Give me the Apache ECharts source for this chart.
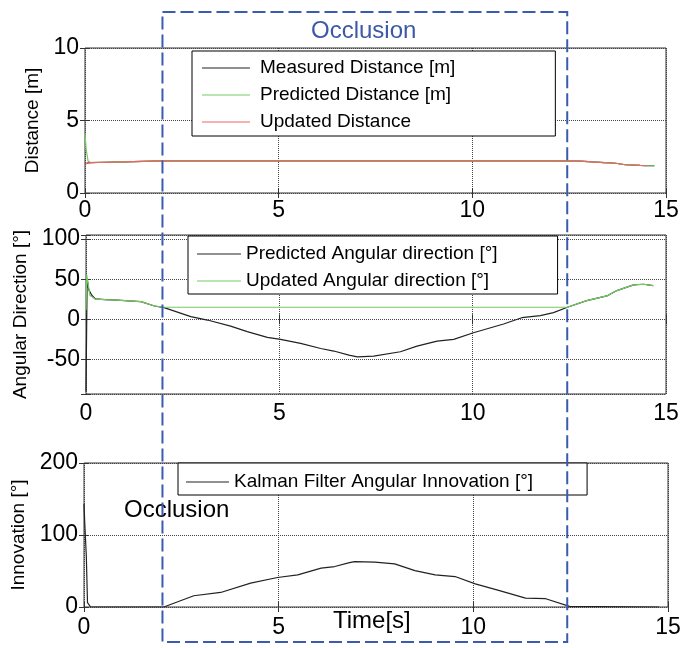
<!DOCTYPE html>
<html>
<head>
<meta charset="utf-8">
<script src="https://cdn.jsdelivr.net/npm/echarts@6/dist/echarts.min.js"></script>
<style>
html, body { margin: 0; padding: 0; background: #fff; }
#main { width: 694px; height: 648px; }
</style>
</head>
<body>
<div id="main"></div>
<script>
// occlusion window [s]
var occlusionStart = 2;
var occlusionEnd = 12.45;

// distance plot
var distTime      = [0, 0.03, 0.08, 0.15, 0.5, 1.0, 1.5, 2.0, 4, 6, 8, 10, 12, 12.78, 13.1, 13.4, 13.7, 13.95, 14.33, 14.5, 14.7];
var distMeasured  = [2.0, 2.05, 2.08, 2.1, 2.12, 2.14, 2.18, 2.22, 2.22, 2.22, 2.22, 2.22, 2.22, 2.2, 2.14, 2.1, 2.05, 1.95, 1.9, 1.88, 1.88];
var distPredicted = [4.1, 3.0, 2.2, 2.1, 2.12, 2.14, 2.18, 2.22, 2.22, 2.22, 2.22, 2.22, 2.22, 2.2, 2.14, 2.1, 2.05, 1.95, 1.9, 1.88, 1.88];
var distUpdated   = [2.0, 2.05, 2.08, 2.1, 2.12, 2.14, 2.18, 2.22, 2.22, 2.22, 2.22, 2.22, 2.22, 2.2, 2.14, 2.1, 2.05, 1.95, 1.9, 1.88, null];

// angular direction plot
var angTime = [0, 0.03, 0.07, 0.15, 0.24, 0.5, 0.81, 1.1, 1.42, 1.77, 2.02, 2.71, 3.14, 3.74, 4.17, 4.69, 5.03, 5.55, 6.07, 6.41, 6.8, 7.02, 7.44, 8.13, 8.56, 9.08, 9.51, 10.02, 10.8, 11.27, 11.75, 12.09, 12.45, 12.95, 13.47, 13.73, 14.16, 14.42, 14.67];
var angPredicted = [-90, 51, 37, 30, 25.4, 24.5, 24, 23, 22, 16.6, 14.5, 3.3, -0.9, -8.4, -15.4, -22.5, -25, -30, -36.3, -39.5, -44.6, -46.7, -45.9, -40.4, -33.4, -27.1, -25, -16.7, -5.8, 2, 4.6, 8.3, 15, 23.3, 29.1, 35.8, 42.9, 43.7, 42];
var angUpdTime = [0, 0.02, 0.1, 0.24, 0.5, 0.81, 1.1, 1.42, 1.77, 2.02, 12.45, 12.95, 13.47, 13.73, 14.16, 14.42, 14.67];
var angUpdated = [11.6, 55, 30, 25, 24.5, 24, 23, 22, 16.6, 15, 15, 23.3, 29.1, 35.8, 42.9, 43.7, 42];

// innovation plot
var innTime = [0, 0.02, 0.06, 0.09, 0.17, 2.05, 2.82, 3.51, 4.28, 4.97, 5.49, 6.09, 6.44, 6.82, 6.95, 7.47, 7.98, 8.5, 9.02, 9.53, 10.05, 10.65, 11.34, 11.86, 12.47, 14.77];
var innValue = [143, 116, 70, 6, 0, 0, 15.6, 20.2, 33.2, 41, 44.7, 53.9, 56.2, 61.7, 63, 62.2, 59.9, 50.6, 44.7, 42.3, 32.2, 23, 12.4, 11.5, 0.8, 0];

var font = 'Liberation Sans, Arial, sans-serif';
var cBlack = '#222222';
var cGreen = '#74cc62';
var cRed = '#f06565';

function pairs(t, v) {
    var out = [];
    for (var i = 0; i < t.length; i++) {
        out.push([t[i], v[i]]);
    }
    return out;
}

function xMain(g, margin) {
    return {
        type: 'value', gridIndex: g, min: 0, max: 15, interval: 5, position: 'bottom',
        axisLine: {show: false},
        axisTick: {inside: true, length: 5, lineStyle: {color: '#333'}},
        axisLabel: {fontSize: 23, color: '#000', fontFamily: font, margin: margin},
        splitLine: {show: true, lineStyle: {color: '#444', type: 'dotted'}}
    };
}
function xTop(g) {
    return {
        type: 'value', gridIndex: g, min: 0, max: 15, interval: 5, position: 'top',
        axisLine: {show: false},
        axisTick: {inside: true, length: 5, lineStyle: {color: '#333'}},
        axisLabel: {show: false},
        splitLine: {show: false}
    };
}
function yAxisOf(g, ext, name, gap, right) {
    var ax = {
        type: 'value', gridIndex: g, position: right ? 'right' : 'left',
        axisLine: {show: false},
        axisTick: {inside: true, length: 5, lineStyle: {color: '#333'}},
        axisLabel: right ? {show: false} : {
            fontSize: 23, color: '#000', fontFamily: font, margin: 6,
            formatter: function (v) { return (v % ext.step === 0) ? String(v) : ''; }
        },
        splitLine: right ? {show: false} : {show: true, lineStyle: {color: '#444', type: 'dotted'}}
    };
    for (var k in ext) { if (k !== 'step') ax[k] = ext[k]; }
    if (!right) {
        ax.name = name;
        ax.nameLocation = 'middle';
        ax.nameGap = gap;
        ax.nameTextStyle = {fontSize: 19, color: '#000', fontFamily: font};
    }
    return ax;
}

var distExt = {min: 0, max: 10, interval: 5, step: 5};
var angExt = {min: -93, max: 105, splitNumber: 4, step: 50};
var innExt = {min: 0, max: 200, interval: 100, step: 100};

var legendBase = {
    orient: 'vertical',
    backgroundColor: '#fff',
    borderColor: '#000',
    borderWidth: 1,
    borderRadius: 0,
    icon: 'rect',
    itemHeight: 1,
    itemGap: 5,
    selectedMode: false,
    textStyle: {fontSize: 19, color: '#000', fontFamily: font, lineHeight: 22}
};
function legendAt(opts) {
    var l = {};
    for (var k in legendBase) l[k] = legendBase[k];
    for (var j in opts) l[j] = opts[j];
    return l;
}

function line(name, xi, t, v, color, z) {
    return {
        name: name, type: 'line', xAxisIndex: xi, yAxisIndex: xi,
        data: pairs(t, v), showSymbol: false, symbol: 'none',
        color: color, lineStyle: {color: color, width: 1.2}, z: z || 2,
        animation: false
    };
}

var chart = echarts.init(document.getElementById('main'));
var option = {
    animation: false,
    backgroundColor: '#fff',
    title: [
        {text: 'Occlusion', left: 311, top: 19, padding: 0,
            textStyle: {fontSize: 24, fontWeight: 'normal', color: '#3d58a8', fontFamily: font}},
        {text: 'Occlusion', left: 124, top: 498, padding: 0,
            textStyle: {fontSize: 24, fontWeight: 'normal', color: '#000', fontFamily: font}},
        {text: 'Time[s]', left: 333, top: 609, padding: 0,
            textStyle: {fontSize: 24, fontWeight: 'normal', color: '#000', fontFamily: font}}
    ],
    grid: [
        {left: 85, right: 28, top: 48, height: 145, show: true, borderColor: '#333', borderWidth: 1},
        {left: 86, right: 28, top: 235, height: 159, show: true, borderColor: '#333', borderWidth: 1},
        {left: 84, right: 26, top: 463, height: 144, show: true, borderColor: '#333', borderWidth: 1}
    ],
    xAxis: [xMain(0, 6), xMain(1, 8), xMain(2, 9), xTop(0), xTop(1), xTop(2)],
    yAxis: [
        yAxisOf(0, distExt, 'Distance [m]', 40, false),
        yAxisOf(1, angExt, 'Angular Direction [°]', 52, false),
        yAxisOf(2, innExt, 'Innovation [°]', 52, false),
        yAxisOf(0, distExt, '', 0, true),
        yAxisOf(1, angExt, '', 0, true),
        yAxisOf(2, innExt, '', 0, true)
    ],
    legend: [
        legendAt({left: 192, top: 51, padding: [6, 100, 3, 10], itemWidth: 48, itemGap: 5,
            textStyle: {fontSize: 19, color: '#000', fontFamily: font, lineHeight: 22, padding: [0, 0, 0, 5]},
            data: ['Measured Distance [m]', 'Predicted Distance [m]', 'Updated Distance']}),
        legendAt({left: 188, top: 236, padding: [7, 60, 2, 9], itemWidth: 44,
            data: ['Predicted Angular direction [°]', 'Updated Angular direction [°]']}),
        legendAt({left: 178, top: 463, padding: [8, 54, 2, 8], itemWidth: 43,
            data: ['Kalman Filter Angular Innovation [°]']})
    ],
    series: [
        line('Measured Distance [m]', 0, distTime, distMeasured, cBlack, 2),
        line('Predicted Distance [m]', 0, distTime, distPredicted, cGreen, 3),
        line('Updated Distance', 0, distTime, distUpdated, cRed, 4),
        line('Predicted Angular direction [°]', 1, angTime, angPredicted, cBlack, 2),
        line('Updated Angular direction [°]', 1, angUpdTime, angUpdated, cGreen, 3),
        line('Kalman Filter Angular Innovation [°]', 2, innTime, innValue, cBlack, 2)
    ]
};
chart.setOption(option);

// dashed occlusion box, placed from the time axis
var x1 = chart.convertToPixel({xAxisIndex: 0}, occlusionStart);
var x2 = chart.convertToPixel({xAxisIndex: 0}, occlusionEnd);
chart.setOption({
    graphic: [{
        type: 'rect', z: 100, silent: true,
        shape: {x: x1, y: 12, width: x2 - x1, height: 630},
        style: {fill: 'none', stroke: '#3a5bb0', lineWidth: 2, lineDash: [13, 5]}
    }]
});
</script>
</body>
</html>
